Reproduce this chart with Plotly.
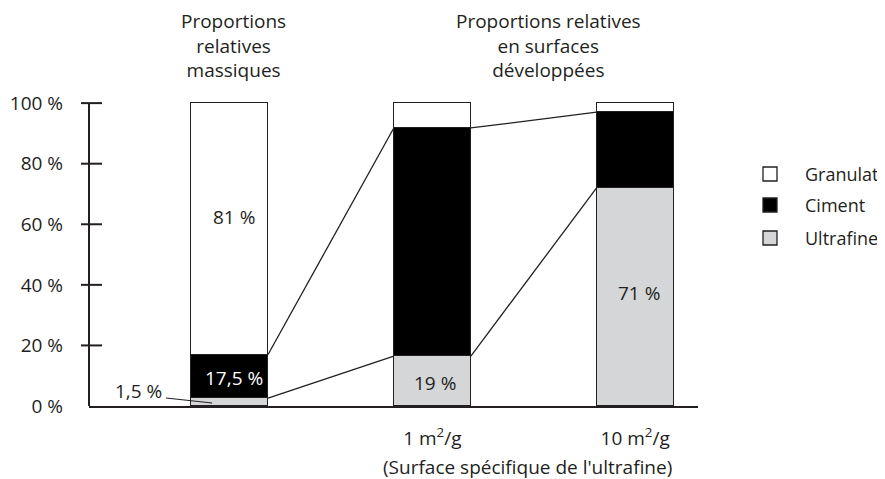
import plotly.graph_objects as go

# ---- data ----
bar_positions = [0, 1, 2]
tick_labels_x = ["1 m<sup>2</sup>/g", "10 m<sup>2</sup>/g"]
ultrafine = [2.6, 16.5, 72.0]
ciment = [14.4, 75.3, 25.0]
granulat = [83.0, 8.2, 3.0]
series_names = ["Granulat", "Ciment", "Ultrafine"]
value_labels = ["81 %", "17,5 %", "1,5 %", "19 %", "71 %"]
y_ticks = [0, 20, 40, 60, 80, 100]
y_tick_labels = ["0 %", "20 %", "40 %", "60 %", "80 %", "100 %"]

TXT = "#231f20"
FONT = "Open Sans"
FS = 19
GREY = "#d5d6d8"
W = 0.38

# page body has an 8px margin: figure is shrunk so the plot lands where intended
OFF = 8
PL, PR, PT, PB = 89, 698, 101, 406   # plot area in window pixels
PW, PH = PR - PL, PB - PT


def px(x):
    return (x - PL) / PW


def py(y):
    return (PB - y) / PH


fig = go.Figure()
edge = dict(color=TXT, width=1.5)
fig.add_bar(x=bar_positions, y=ultrafine, width=W, marker=dict(color=GREY, line=edge), name="Ultrafine")
fig.add_bar(x=bar_positions, y=ciment, width=W, marker=dict(color="black", line=edge), name="Ciment")
fig.add_bar(x=bar_positions, y=granulat, width=W, marker=dict(color="white", line=edge), name="Granulat")

# connecting lines between successive bars (tops of ultrafine and ciment segments)
for i in range(len(bar_positions) - 1):
    u0, u1 = ultrafine[i], ultrafine[i + 1]
    c0, c1 = ultrafine[i] + ciment[i], ultrafine[i + 1] + ciment[i + 1]
    for a, b in [(u0, u1), (c0, c1)]:
        fig.add_scatter(x=[bar_positions[i] + W / 2, bar_positions[i + 1] - W / 2], y=[a, b],
                        mode="lines", line=dict(color=TXT, width=1.3), showlegend=False,
                        hoverinfo="skip")

fig.update_layout(
    barmode="stack", bargap=0,
    width=885 - OFF, height=479 - OFF,
    margin=dict(l=PL - OFF, r=885 - PR, t=PT - OFF, b=479 - PB, autoexpand=False),
    plot_bgcolor="white", paper_bgcolor="white",
    showlegend=False,
    font=dict(family=FONT, size=FS, color=TXT),
)
fig.update_xaxes(range=[-0.693, 2.31], tickvals=[1, 2], ticktext=tick_labels_x,
                 showline=True, linecolor=TXT, linewidth=2, ticks="", showgrid=False,
                 zeroline=False, ticklabelstandoff=14, automargin=False,
                 tickfont=dict(family=FONT, size=FS, color=TXT))
fig.update_yaxes(range=[0, 100.7], tickvals=y_ticks, ticktext=y_tick_labels,
                 showline=False, ticks="", showgrid=False, zeroline=False,
                 ticklabelstandoff=25, automargin=False,
                 tickfont=dict(family=FONT, size=FS, color=TXT))

# y axis line and crossing tick marks
shapes = [dict(type="line", xref="paper", yref="y", x0=0, x1=0, y0=0, y1=100,
               line=dict(color=TXT, width=2))]
for t in y_ticks[1:]:
    shapes.append(dict(type="line", xref="paper", yref="y", x0=-8 / PW, x1=13 / PW,
                       y0=t, y1=t, line=dict(color=TXT, width=2)))
# leader for 1,5 %
shapes.append(dict(type="line", xref="x", yref="y", x0=-0.313, y0=2.64, x1=-0.086, y1=0.99,
                   line=dict(color=TXT, width=1.2)))

# manual legend
leg_colors = ["white", "black", GREY]
leg_y = [174, 205, 238]
annotations = []
for name, col, yy in zip(series_names, leg_colors, leg_y):
    shapes.append(dict(type="rect", xref="paper", yref="paper",
                       x0=px(763), x1=px(777), y0=py(yy + 7), y1=py(yy - 7),
                       fillcolor=col, line=dict(color=TXT, width=1.3)))
    annotations.append(dict(text=name, xref="paper", yref="paper", x=px(803),
                            y=py(yy), xanchor="left", yanchor="middle",
                            showarrow=False, font=dict(family=FONT, size=18, color=TXT)))

# value labels
lab_pos = [(0.02, 62.4, TXT), (0.02, 9.2, "white"), (-0.451, 4.95, TXT), (1.013, 7.6, TXT), (2.019, 37.3, TXT)]
for txt, (x, y, c) in zip(value_labels, lab_pos):
    annotations.append(dict(text=txt, x=x, y=y, xref="x", yref="y", showarrow=False,
                            font=dict(family=FONT, size=FS, color=c)))

# group titles
annotations.append(dict(text="Proportions<br>relatives<br>massiques", xref="paper", yref="paper",
                        x=px(233), y=py(45), showarrow=False,
                        xanchor="center", yanchor="middle",
                        font=dict(family=FONT, size=FS, color=TXT)))
annotations.append(dict(text="Proportions relatives<br>en surfaces<br>développées", xref="paper",
                        yref="paper", x=px(548), y=py(45.5), showarrow=False,
                        xanchor="center", yanchor="middle",
                        font=dict(family=FONT, size=FS, color=TXT)))
# x axis caption
annotations.append(dict(text="(Surface spécifique de l'ultrafine)", xref="paper", yref="paper",
                        x=px(527), y=py(467), showarrow=False, xanchor="center", yanchor="middle",
                        font=dict(family=FONT, size=FS, color=TXT)))

fig.update_layout(shapes=shapes, annotations=annotations)
fig.write_html("out.html")
